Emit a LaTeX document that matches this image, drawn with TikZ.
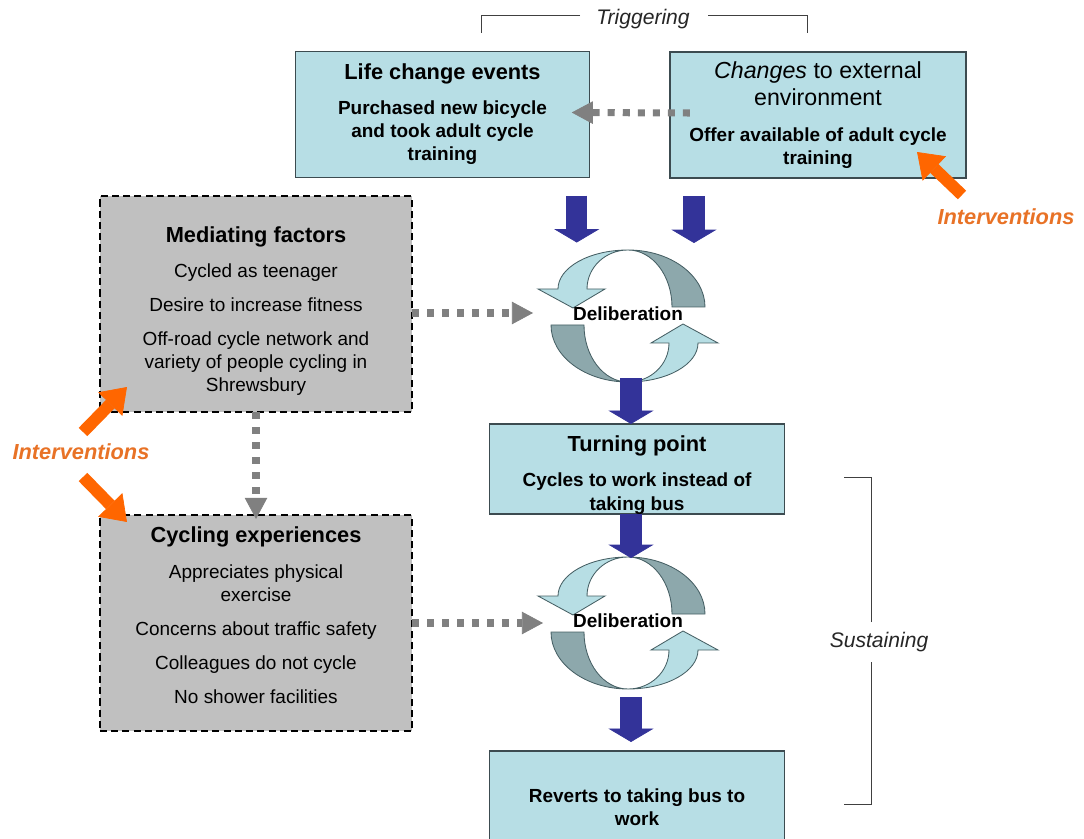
\documentclass[tikz,border=0pt]{standalone}
\usepackage{fontspec}
\setmainfont{Liberation Sans}
\usetikzlibrary{arrows.meta,calc}
\definecolor{boxblue}{RGB}{183,222,229}
\definecolor{boxedge}{RGB}{60,75,80}
\definecolor{factorgray}{RGB}{192,192,192}
\definecolor{ringlight}{RGB}{183,222,228}
\definecolor{ringdark}{RGB}{141,168,172}
\definecolor{ringedge}{RGB}{70,95,100}
\definecolor{flowblue}{RGB}{51,51,153}
\definecolor{linkgray}{RGB}{128,128,128}
\definecolor{actorange}{RGB}{255,102,0}
\definecolor{textorange}{RGB}{232,114,38}
\newcommand{\titlefont}{\fontsize{15.5}{18.5}\selectfont\bfseries}
\newcommand{\envfont}{\fontsize{16.5}{19}\selectfont\mdseries}
\newcommand{\bodyfont}{\fontsize{13.5}{16.4}\selectfont}
\tikzstyle{stagebox}=[rectangle, fill=boxblue, draw=boxedge, line width=0.8pt, inner sep=0pt, outer sep=0pt, align=center, font=\bodyfont\bfseries, minimum width=7.36cm]
\tikzstyle{factorbox}=[rectangle, fill=factorgray, draw=black, line width=1.1pt, dash pattern=on 5pt off 3pt, inner sep=0pt, outer sep=0pt, align=center, font=\bodyfont, minimum width=7.8cm, minimum height=5.4cm]
\tikzstyle{ringpart}=[draw=ringedge, line width=0.6pt]
\tikzstyle{delibtext}=[font=\bodyfont\bfseries, inner sep=1pt]
\tikzstyle{flowarrow}=[draw=flowblue, line width=15pt, -{Triangle[length=9.5pt,width=32pt,line width=0.5pt]}]
\tikzstyle{linkarrow}=[draw=linkgray, line width=5pt, dash pattern=on 5pt off 5.7pt, -{Triangle[length=15pt,width=16pt,line width=0.5pt]}]
\tikzstyle{actarrow}=[draw=actorange, line width=8.5pt, -{Triangle[length=17pt,width=24pt,line width=0.5pt]}]
\tikzstyle{actlabel}=[text=textorange, font=\titlefont\itshape]
\tikzstyle{phaselabel}=[font=\fontsize{15}{18}\selectfont\itshape, text=black!85]
\tikzstyle{bracketline}=[draw=black!75, line width=0.7pt]
\newcommand{\drawcycle}[2]
{
  \begin{scope}[shift={#2}]
    \foreach \turn in {0,180}{
      \begin{scope}[rotate=\turn]
        \filldraw[ringpart, fill=ringdark] (77,9) arc[start angle=0, end angle=90, x radius=77, y radius=57]
          arc[start angle=90, end angle=0, x radius=44, y radius=57] -- cycle;
        \filldraw[ringpart, fill=ringlight] (0,66) arc[start angle=90, end angle=180, x radius=70, y radius=39]
          -- (-90,27) -- (-55,8) -- (-23,27) -- (-41,27)
          arc[start angle=180, end angle=90, x radius=41, y radius=39] -- cycle;
      \end{scope}
    }
    \node[delibtext] (#1) at (0,2) {Deliberation};
  \end{scope}
}

\begin{document}
\begin{tikzpicture}[x=0.025cm, y=0.025cm]
	\useasboundingbox (0,0) rectangle (1084,-839);
	\clip (0,0) rectangle (1084,-839);

	% stages
	\node[stagebox, minimum height=3.15cm] (life) at (442.5,-114.5) {{\titlefont Life change events}\\[8.5pt] Purchased new bicycle\\ and took adult cycle\\ training};
	\node[stagebox, minimum width=7.4cm, minimum height=3.15cm] (changes) at (818,-115) {{\envfont\textit{Changes} to external}\\[3pt] {\envfont environment}\\[9pt] Offer available of adult cycle\\ training};
	\node[stagebox, minimum height=2.25cm] (turning) at (637,-469) {{}\\[3.5pt] {\titlefont Turning point}\\[8.5pt] Cycles to work instead of\\ taking bus};
	\node[stagebox, minimum height=2.8cm] (reverts) at (637,-807) {Reverts to taking bus to\\ work};

	% mediating factors and experiences
	\node[factorbox] (mediating) at (256,-304) {{}\\[5pt] {\titlefont Mediating factors}\\[8.5pt] Cycled as teenager\\[7.8pt] Desire to increase fitness\\[7.8pt] Off-road cycle network and\\ variety of people cycling in\\ Shrewsbury};
	\node[factorbox] (cycling) at (256,-623) {{\titlefont Cycling experiences}\\[9pt] Appreciates physical\\ exercise\\[8pt] Concerns about traffic safety\\[7.5pt] Colleagues do not cycle\\[7.5pt] No shower facilities\\[-5pt] {}};

	% deliberation loops
	\drawcycle{delib1}{(628,-316)}
	\drawcycle{delib2}{(628,-623)}

	% main flow
	\draw[flowarrow] ($(life.south east)+(-13,-18)$) -- ++(0,-47);
	\draw[flowarrow] ($(changes.south west)+(24,-18)$) -- ++(0,-47);
	\draw[flowarrow] ($(turning.north)+(-6,46)$) -- ($(turning.north)+(-6,0)$);
	\draw[flowarrow] ($(turning.south)+(-6,0)$) -- ++(0,-44);
	\draw[flowarrow] ($(reverts.north)+(-6,54)$) -- ($(reverts.north)+(-6,9)$);

	% influences
	\coordinate (in1) at (533,-313);
	\coordinate (in2) at (543,-623);
	\draw[linkarrow] ($(changes.west)+(20,2)$) -- ($(life.east)+(-18,2)$);
	\draw[linkarrow] (mediating.east |- in1) -- (in1);
	\draw[linkarrow] (cycling.east |- in2) -- (in2);
	\draw[linkarrow] (mediating.south) -- ($(cycling.north)+(0,-4)$);

	% interventions
	\node[actlabel] (actright) at (1006,-217) {Interventions};
	\node[actlabel] (actleft) at (81,-452) {Interventions};
	\draw[actarrow] ($(actright)+(-44,22)$) -- ($(changes.south east)+(-49,26)$);
	\draw[actarrow] ($(actleft)+(2,20)$) -- ($(mediating.south west)+(27,25)$);
	\draw[actarrow] ($(actleft)+(2,-25)$) -- ($(cycling.north west)+(27,-7)$);

	% phases
	\node[phaselabel] (trig) at (643,-19) {Triggering};
	\draw[bracketline] (580,-15) -| (481,-33);
	\draw[bracketline] (708,-15) -| (807,-33);
	\node[phaselabel] (sust) at (879,-642) {Sustaining};
	\draw[bracketline] (871,-622) |- (844,-477);
	\draw[bracketline] (871,-662) |- (844,-804);

\end{tikzpicture}
\end{document}
